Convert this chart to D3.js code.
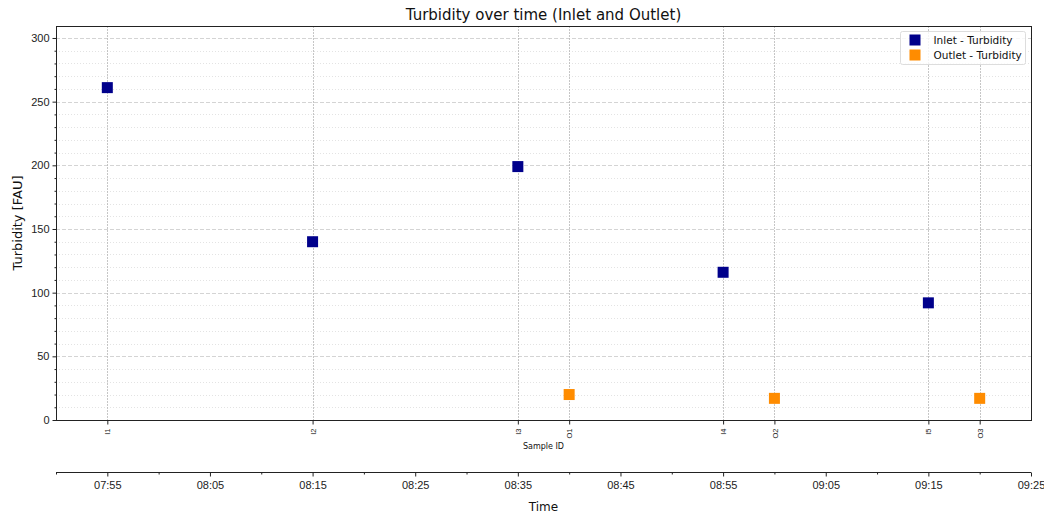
<!DOCTYPE html>
<html>
<head>
<meta charset="utf-8">
<script src="https://cdn.jsdelivr.net/npm/d3@7"></script>
<style>
  html, body { margin: 0; padding: 0; background: #fff; }
  svg { display: block; font-family: "DejaVu Sans", sans-serif; }
</style>
</head>
<body>
<svg id="chart" width="1044" height="515"></svg>
<script>
// Sample data: inlet and outlet turbidity readings
const inletIds = ["I1", "I2", "I3", "I4", "I5"];
const inletTimes = ["07:55", "08:15", "08:35", "08:55", "09:15"];
const inletValues = [261, 140, 199, 116, 92];

const outletIds = ["O1", "O2", "O3"];
const outletTimes = ["08:40", "09:00", "09:20"];
const outletValues = [20, 17, 17];

const timeRange = ["07:50", "09:25"];
const yMax = 309.4;
const yMajorTicks = [0, 50, 100, 150, 200, 250, 300];

const parse = s => { const [h, m] = s.split(":").map(Number); return new Date(2024, 0, 1, h, m); };
const fmt = d3.timeFormat("%H:%M");

const svg = d3.select("#chart");
const m = { left: 56, right: 1031, top: 26, bottom: 420 };

const x = d3.scaleTime().domain(timeRange.map(parse)).range([m.left, m.right]);
const y = d3.scaleLinear().domain([0, yMax]).range([m.bottom, m.top]);

const inlet = inletIds.map((id, i) => ({ id, t: parse(inletTimes[i]), v: inletValues[i] }));
const outlet = outletIds.map((id, i) => ({ id, t: parse(outletTimes[i]), v: outletValues[i] }));
const samples = inlet.concat(outlet).sort((a, b) => a.t - b.t);

// Minor horizontal grid (every 10)
const minorY = d3.range(10, yMax, 10).filter(v => v % 50 !== 0);
svg.append("g").selectAll("line").data(minorY).join("line")
  .attr("x1", m.left).attr("x2", m.right)
  .attr("y1", d => Math.round(y(d)) + 0.5).attr("y2", d => Math.round(y(d)) + 0.5)
  .attr("stroke", "#e3e3e3").attr("stroke-width", 1).attr("stroke-dasharray", "1,2");

// Major horizontal grid
svg.append("g").selectAll("line").data(yMajorTicks.slice(1)).join("line")
  .attr("x1", m.left).attr("x2", m.right)
  .attr("y1", d => Math.round(y(d)) + 0.5).attr("y2", d => Math.round(y(d)) + 0.5)
  .attr("stroke", "#d4d4d4").attr("stroke-width", 1).attr("stroke-dasharray", "4,2");

// Vertical grid at sample times
svg.append("g").selectAll("line").data(samples).join("line")
  .attr("x1", d => Math.round(x(d.t)) + 0.5).attr("x2", d => Math.round(x(d.t)) + 0.5)
  .attr("y1", m.top).attr("y2", m.bottom)
  .attr("stroke", "#b8b8b8").attr("stroke-width", 0.8).attr("stroke-dasharray", "2,1");

// Markers
const sz = 11;
svg.append("g").selectAll("rect").data(inlet).join("rect")
  .attr("x", d => x(d.t) - sz / 2).attr("y", d => y(d.v) - sz / 2)
  .attr("width", sz).attr("height", sz).attr("fill", "#00008B");
svg.append("g").selectAll("rect").data(outlet).join("rect")
  .attr("x", d => x(d.t) - sz / 2).attr("y", d => y(d.v) - sz / 2)
  .attr("width", sz).attr("height", sz).attr("fill", "#FF8C00");

// Frame
svg.append("rect").attr("x", m.left + 0.5).attr("y", m.top + 0.5)
  .attr("width", m.right - m.left).attr("height", m.bottom - m.top)
  .attr("fill", "none").attr("stroke", "#222").attr("stroke-width", 1);

// Y axis
const yAxis = svg.append("g").attr("transform", `translate(${m.left + 0.5},0)`)
  .call(d3.axisLeft(y).tickValues(yMajorTicks).tickSize(4).tickPadding(3));
yAxis.select(".domain").remove();
yAxis.selectAll("text").attr("font-size", 11).attr("fill", "#222");
yAxis.selectAll("line").attr("stroke", "#222");
svg.append("g").attr("transform", `translate(${m.left + 0.5},0)`)
  .call(d3.axisLeft(y).tickValues(minorY).tickSize(2).tickFormat(""))
  .call(g => g.select(".domain").remove())
  .selectAll("line").attr("stroke", "#222");

svg.append("text")
  .attr("transform", `translate(22,${(m.top + m.bottom) / 2}) rotate(-90)`)
  .attr("text-anchor", "middle").attr("font-size", 13).attr("fill", "#111")
  .text("Turbidity [FAU]");

// Sample ID axis
const sAxis = svg.append("g").attr("transform", `translate(0,${m.bottom + 0.5})`)
  .call(d3.axisBottom(x).tickValues(samples.map(d => d.t)).tickSize(4)
    .tickFormat((d, i) => samples[i].id));
sAxis.select(".domain").remove();
sAxis.selectAll("line").attr("stroke", "#222");
sAxis.selectAll("text")
  .attr("font-size", 7.5).attr("fill", "#222")
  .attr("text-anchor", "end").attr("dy", "0.35em")
  .attr("transform", "translate(0,8) rotate(-90)")
  .attr("x", 0).attr("y", 0);

svg.append("text").attr("x", (m.left + m.right) / 2).attr("y", 449)
  .attr("text-anchor", "middle").attr("font-size", 8).attr("fill", "#111")
  .text("Sample ID");

// Time axis
const tY = 472.5;
const majorT = d3.range(0, 10).map(i => d3.timeMinute.offset(parse("07:55"), i * 10));
const minorT = d3.range(0, 10).map(i => d3.timeMinute.offset(parse("07:50"), i * 10));
const tAxis = svg.append("g").attr("transform", `translate(0,${tY})`)
  .call(d3.axisBottom(x).tickValues(majorT).tickSize(4).tickPadding(5).tickFormat(fmt));
tAxis.select(".domain").attr("d", `M${m.left},0H${m.right}`).attr("stroke", "#222");
tAxis.selectAll("line").attr("stroke", "#222");
tAxis.selectAll("text").attr("font-size", 11).attr("fill", "#222");
svg.append("g").attr("transform", `translate(0,${tY})`)
  .call(d3.axisBottom(x).tickValues(minorT).tickSize(2).tickFormat(""))
  .call(g => g.select(".domain").remove())
  .selectAll("line").attr("stroke", "#222");

svg.append("text").attr("x", (m.left + m.right) / 2).attr("y", 511)
  .attr("text-anchor", "middle").attr("font-size", 12).attr("fill", "#111")
  .text("Time");

// Title
svg.append("text").attr("x", (m.left + m.right) / 2).attr("y", 20)
  .attr("text-anchor", "middle").attr("font-size", 15).attr("fill", "#111")
  .text("Turbidity over time (Inlet and Outlet)");

// Legend
const lg = svg.append("g").attr("transform", "translate(900.5,31.5)");
lg.append("rect").attr("width", 125).attr("height", 33).attr("rx", 2)
  .attr("fill", "#fff").attr("fill-opacity", 0.8).attr("stroke", "#ddd");
const legendItems = [["Inlet - Turbidity", "#00008B"], ["Outlet - Turbidity", "#FF8C00"]];
legendItems.forEach(([label, color], i) => {
  lg.append("rect").attr("x", 9).attr("y", 3 + i * 15).attr("width", 11).attr("height", 11).attr("fill", color);
  lg.append("text").attr("x", 33).attr("y", 12 + i * 15).attr("font-size", 10.5).attr("fill", "#111").text(label);
});
</script>
</body>
</html>
